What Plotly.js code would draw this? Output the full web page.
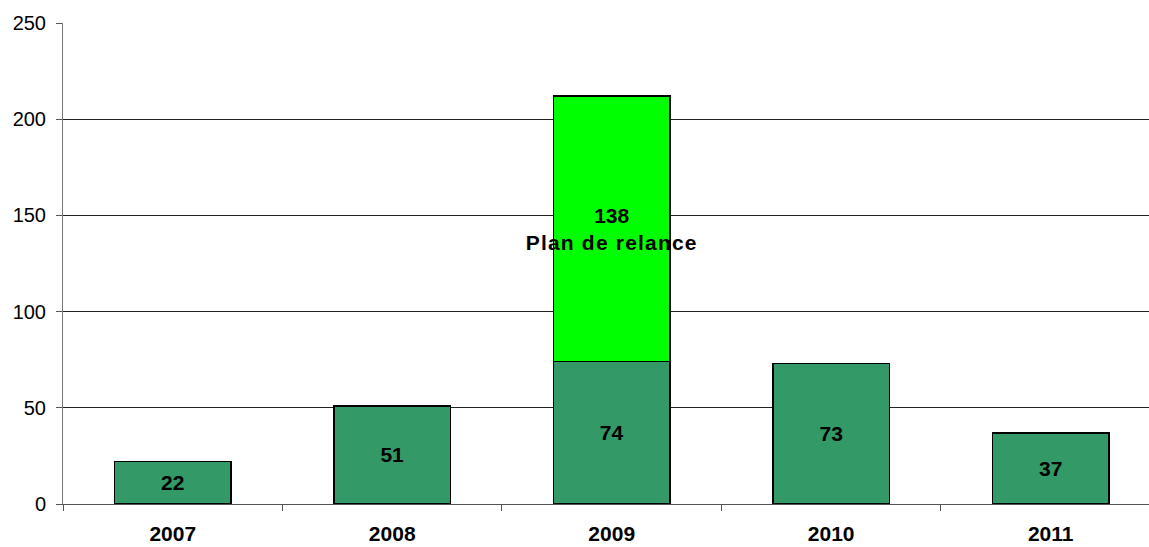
<!DOCTYPE html>
<html>
<head>
<meta charset="utf-8">
<script src="https://cdn.plot.ly/plotly-3.0.1.min.js"></script>
<style>html,body{margin:0;padding:0;background:#fff;}#chart{width:1149px;height:547px;}</style>
</head>
<body>
<div id="chart"></div>
<script>
const years = ['2007', '2008', '2009', '2010', '2011'];
const baseValues = [22, 51, 74, 73, 37];
const relanceValues = [null, null, 138, null, null];
const relanceLabels = ['', '', '138<br><span style="letter-spacing:1.2px">Plan de relance</span>', '', ''];
const yTicks = [0, 50, 100, 150, 200, 250];

const labelFont = {family: 'Liberation Sans, Arial, sans-serif', size: 21, color: '#000', weight: 'bold'};

const traces = [
  {
    type: 'bar', x: years, y: baseValues,
    text: baseValues.map(String), textposition: 'inside', insidetextanchor: 'middle',
    textangle: 0, constraintext: 'none', textfont: labelFont,
    marker: {color: '#339966', line: {color: '#000', width: 1.5}},
    width: 0.53, hoverinfo: 'skip'
  },
  {
    type: 'bar', x: years, y: relanceValues,
    text: relanceLabels, textposition: 'inside', insidetextanchor: 'middle',
    textangle: 0, constraintext: 'none', textfont: labelFont,
    marker: {color: '#00FF00', line: {color: '#000', width: 1.5}},
    width: 0.53, hoverinfo: 'skip'
  }
];

const layout = {
  width: 1149, height: 547,
  margin: {l: 63, r: 0, t: 23, b: 43},
  barmode: 'stack',
  showlegend: false,
  paper_bgcolor: '#fff', plot_bgcolor: '#fff',
  font: {family: 'Liberation Sans, Arial, sans-serif', color: '#000'},
  xaxis: {
    type: 'category', range: [-0.5, 4.448],
    tickson: 'boundaries', ticks: 'outside', ticklen: 6, tickcolor: '#555',
    showline: true, linecolor: '#555', linewidth: 1,
    showgrid: false, zeroline: false,
    tickfont: {family: 'Liberation Sans, Arial, sans-serif', size: 21, color: '#000', weight: 'bold'},
    ticklabelstandoff: 11
  },
  yaxis: {
    range: [0, 250], tickvals: yTicks, ticktext: yTicks.map(String),
    ticks: 'outside', ticklen: 6, tickcolor: '#555',
    showline: true, linecolor: '#777', linewidth: 1,
    showgrid: true, gridcolor: '#222', gridwidth: 1, zeroline: false,
    tickfont: {family: 'Liberation Sans, Arial, sans-serif', size: 20, color: '#000'},
    ticklabelstandoff: 6
  }
};

Plotly.newPlot('chart', traces, layout, {staticPlot: true, displayModeBar: false});
</script>
</body>
</html>
